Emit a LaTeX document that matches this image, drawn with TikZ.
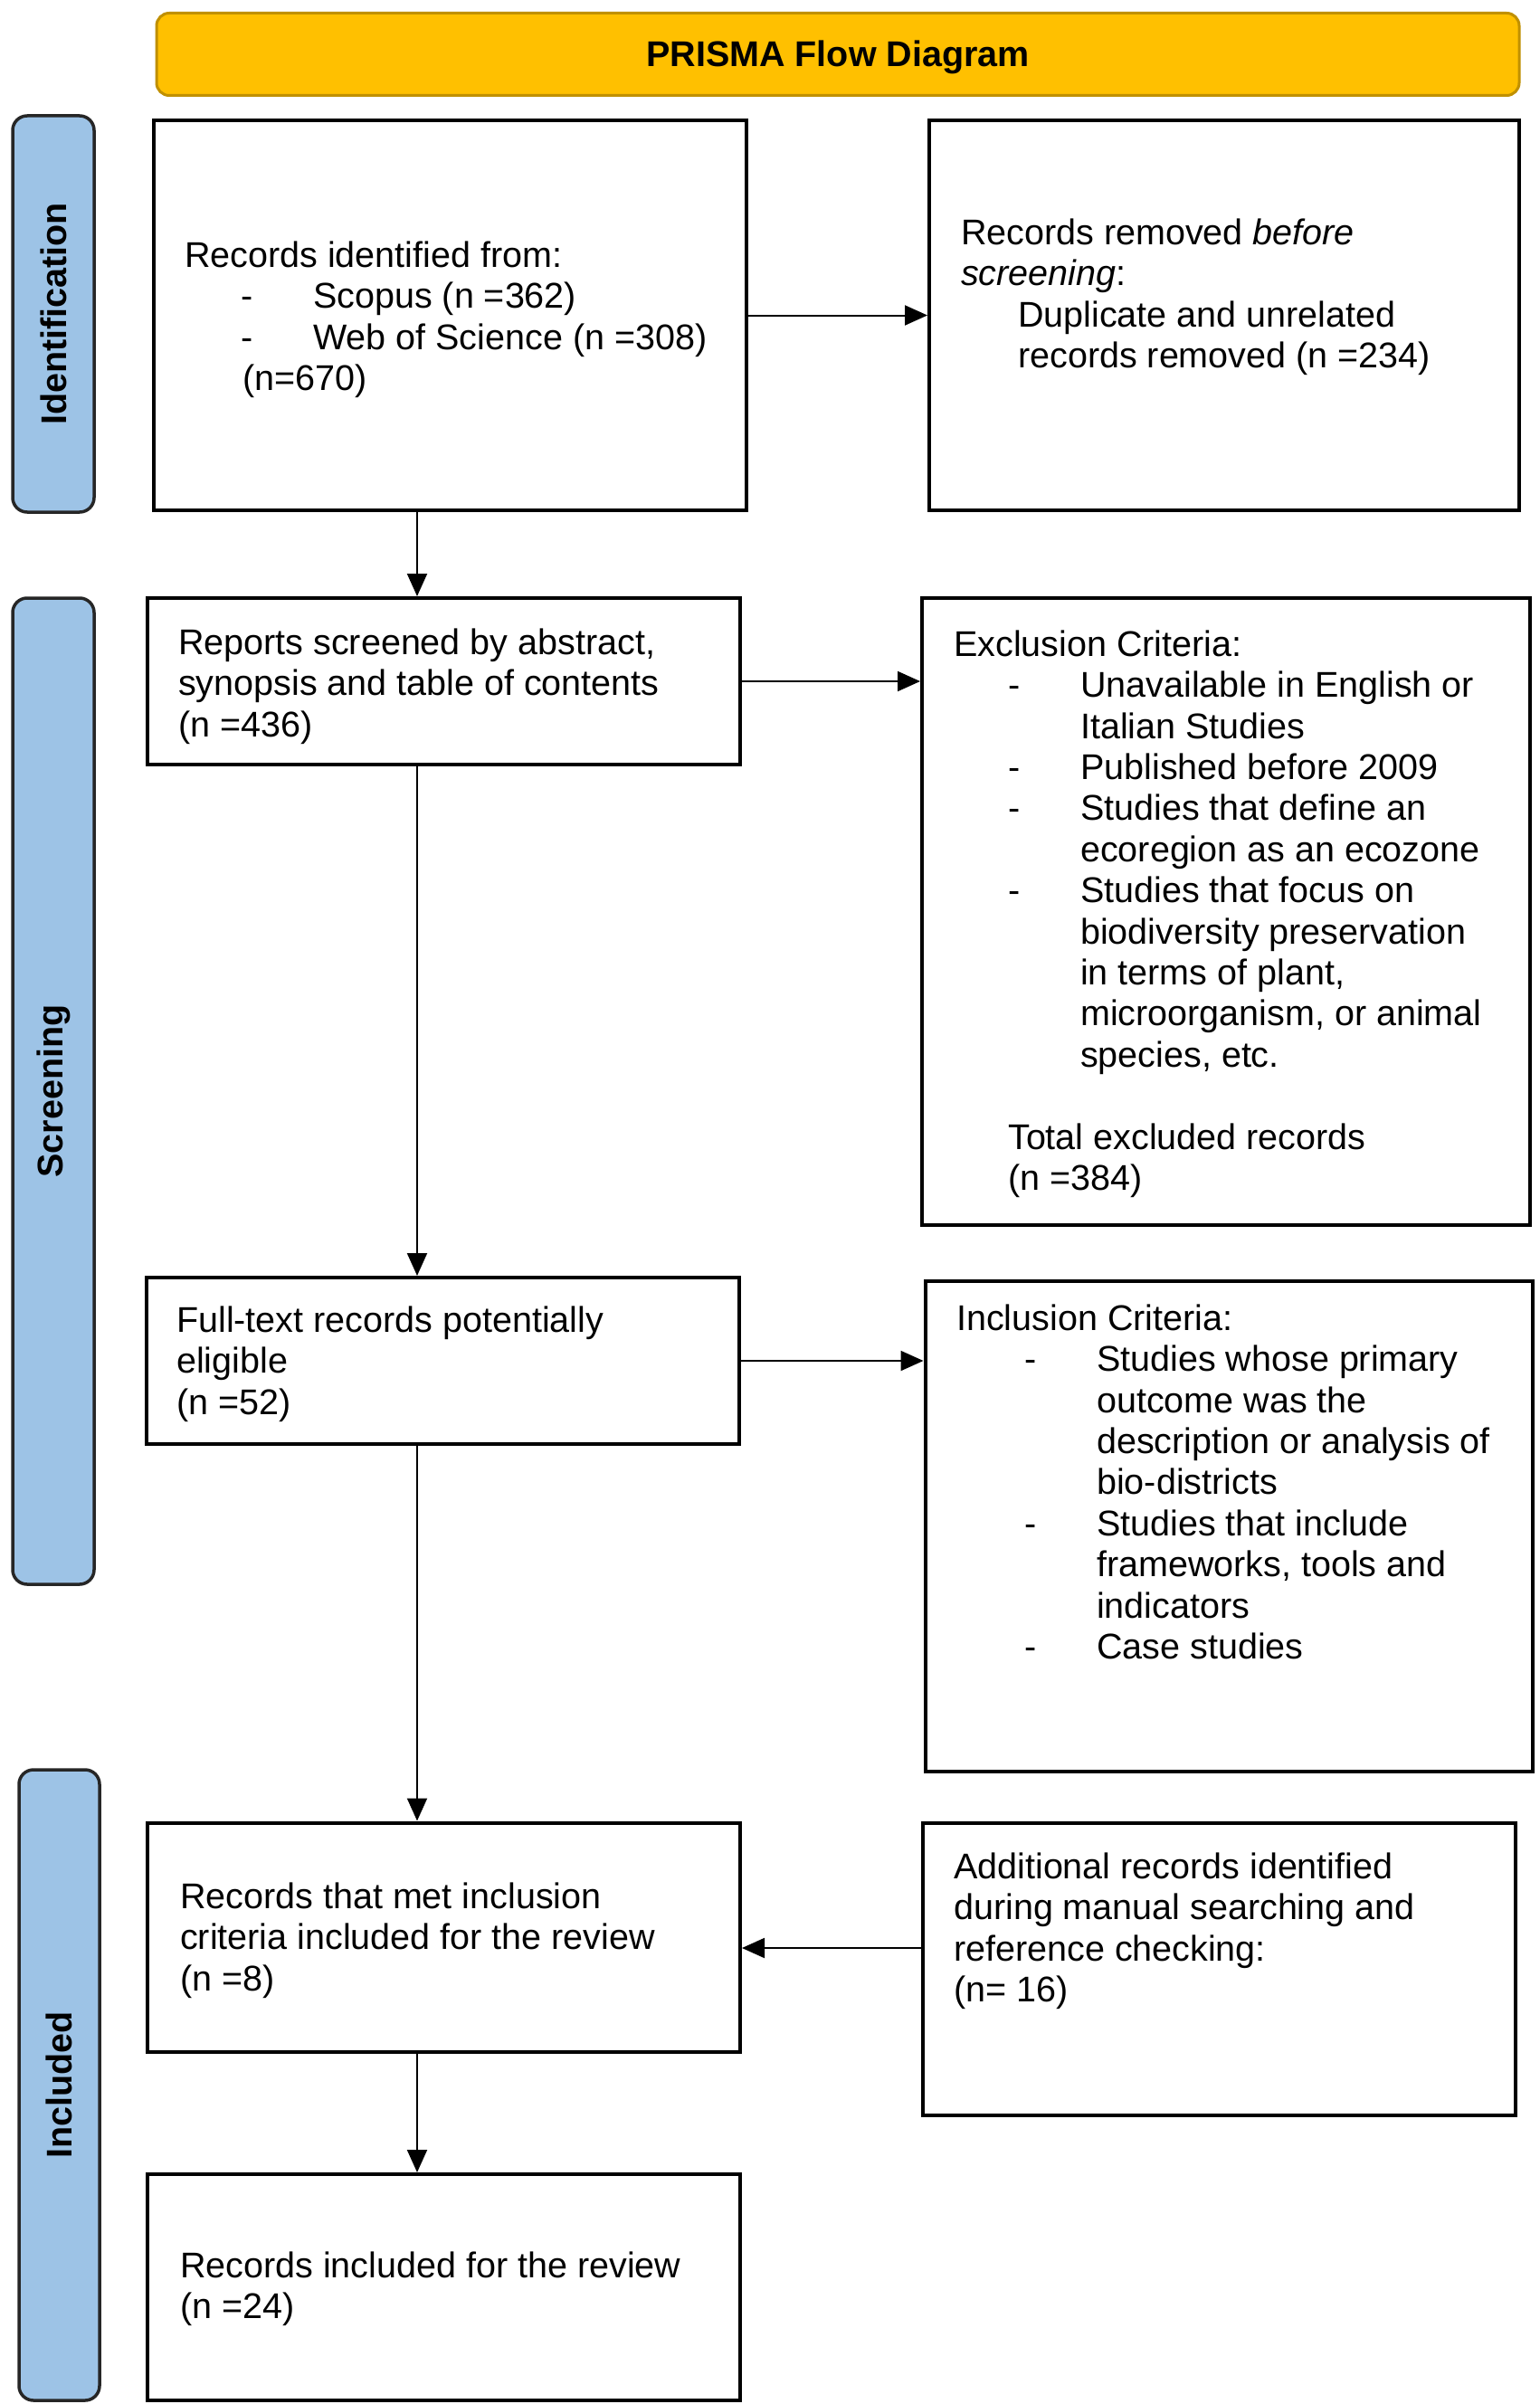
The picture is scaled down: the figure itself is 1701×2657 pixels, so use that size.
\documentclass[tikz,border=0pt]{standalone}
\usepackage{fontspec}
\usepackage{graphicx}
\setmainfont{Liberation Sans}
\usetikzlibrary{arrows.meta}
\definecolor{gold}{HTML}{FFC000}
\definecolor{golddark}{HTML}{C09000}
\definecolor{barblue}{HTML}{9DC3E6}
\newcommand\fst{\rule{0pt}{30pt}}
\newcommand\ind[1]{\hspace*{#1pt}}
\newcommand\bl[2]{\hspace*{#1pt}\makebox[#2pt][l]{-}}
\begin{document}
\begin{tikzpicture}[x=1pt,y=-1pt,
  every node/.style={font=\fontsize{39.5pt}{45.4pt}\selectfont},
  box/.style={draw=black, line width=4pt, fill=white, inner sep=0pt},
  sidebar/.style={draw=black!85, line width=3.5pt, fill=barblue, rounded corners=16pt, inner sep=0pt},
  titlebar/.style={draw=golddark, line width=3pt, fill=gold, rounded corners=14pt, inner sep=0pt},
  txt/.style={anchor=north west, align=left, inner sep=0pt},
  arr/.style={line width=2pt, -{Triangle[length=25pt,width=22pt]}}]
\useasboundingbox (0,0) rectangle (1701,2657);
\fill[white] (0,0) rectangle (1701,2657);

% title and side bars
\node[titlebar, minimum width=1506pt, minimum height=91pt, text height=28pt, text depth=0pt] (title) at (926,60) {\bfseries PRISMA Flow Diagram};
\node[sidebar, minimum width=90pt, minimum height=438pt] (idbar) at (59,347) {\rotatebox{90}{\bfseries Identification}};
\node[sidebar, minimum width=90pt, minimum height=1090pt] (scrbar) at (59,1206) {\rotatebox{90}{\bfseries Screening}};
\node[sidebar, minimum width=89pt, minimum height=697pt] (incbar) at (65.5,2304.5) {\rotatebox{90}{\bfseries Included}};

% boxes
\node[box, minimum width=655pt, minimum height=431pt] (box1) at (497.5,348.5) {};
\node[box, minimum width=652pt, minimum height=431pt] (removed) at (1353,348.5) {};
\node[box, minimum width=655pt, minimum height=184pt] (screened) at (490.5,753) {};
\node[box, minimum width=672pt, minimum height=693pt] (excl) at (1355,1007.5) {};
\node[box, minimum width=655pt, minimum height=184pt] (fulltext) at (489.5,1504) {};
\node[box, minimum width=671pt, minimum height=542pt] (incl) at (1358,1687) {};
\node[box, minimum width=655pt, minimum height=253pt] (met) at (490.5,2141) {};
\node[box, minimum width=655pt, minimum height=323pt] (addl) at (1347,2176) {};
\node[box, minimum width=655pt, minimum height=250pt] (included) at (490.5,2528) {};

% texts
\node[txt] (t1) at (204,265) {\fst Records identified from:\\
  \bl{62}{80}Scopus (n =362)\\
  \bl{62}{80}Web of Science (n =308)\\
  \ind{64}(n=670)};
\node[txt] (t2) at (1062,240) {\fst Records removed \textit{before}\\
  \textit{screening}:\\
  \ind{63}Duplicate and unrelated\\
  \ind{63}records removed (n =234)};
\node[txt] (t3) at (197,693) {\fst Reports screened by abstract,\\
  synopsis and table of contents\\
  (n =436)};
\node[txt] (t4) at (1054,695) {\fst Exclusion Criteria:\\
  \bl{60}{80}Unavailable in English or\\
  \ind{140}Italian Studies\\
  \bl{60}{80}Published before 2009\\
  \bl{60}{80}Studies that define an\\
  \ind{140}ecoregion as an ecozone\\
  \bl{60}{80}Studies that focus on\\
  \ind{140}biodiversity preservation\\
  \ind{140}in terms of plant,\\
  \ind{140}microorganism, or animal\\
  \ind{140}species, etc.\\[45.4pt]
  \ind{60}Total excluded records\\
  \ind{60}(n =384)};
\node[txt] (t5) at (195,1442) {\fst Full-text records potentially\\
  eligible\\
  (n =52)};
\node[txt] (t6) at (1057,1440) {\fst Inclusion Criteria:\\
  \bl{75}{80}Studies whose primary\\
  \ind{155}outcome was the\\
  \ind{155}description or analysis of\\
  \ind{155}bio-districts\\
  \bl{75}{80}Studies that include\\
  \ind{155}frameworks, tools and\\
  \ind{155}indicators\\
  \bl{75}{80}Case studies};
\node[txt] (t7) at (199,2079) {\fst Records that met inclusion\\
  criteria included for the review\\
  (n =8)};
\node[txt] (t8) at (1054,2046) {\fst Additional records identified\\
  during manual searching and\\
  reference checking:\\
  (n= 16)};
\node[txt] (t9) at (199,2487) {\fst Records included for the review\\
  (n =24)};

% connectors
\coordinate (vx) at (461,0);
\draw[arr] (box1.east) -- (removed.west |- box1.east);
\draw[arr] (screened.east) -- (excl.west |- screened.east);
\draw[arr] (fulltext.east) -- (incl.west |- fulltext.east);
\draw[arr] ([yshift=23pt]addl.west) coordinate (aa) -- (aa -| met.east);
\draw[arr] (box1.south -| vx) -- (screened.north -| vx);
\draw[arr] (screened.south -| vx) -- (fulltext.north -| vx);
\draw[arr] (fulltext.south -| vx) -- (met.north -| vx);
\draw[arr] (met.south -| vx) -- (included.north -| vx);
\end{tikzpicture}
\end{document}
